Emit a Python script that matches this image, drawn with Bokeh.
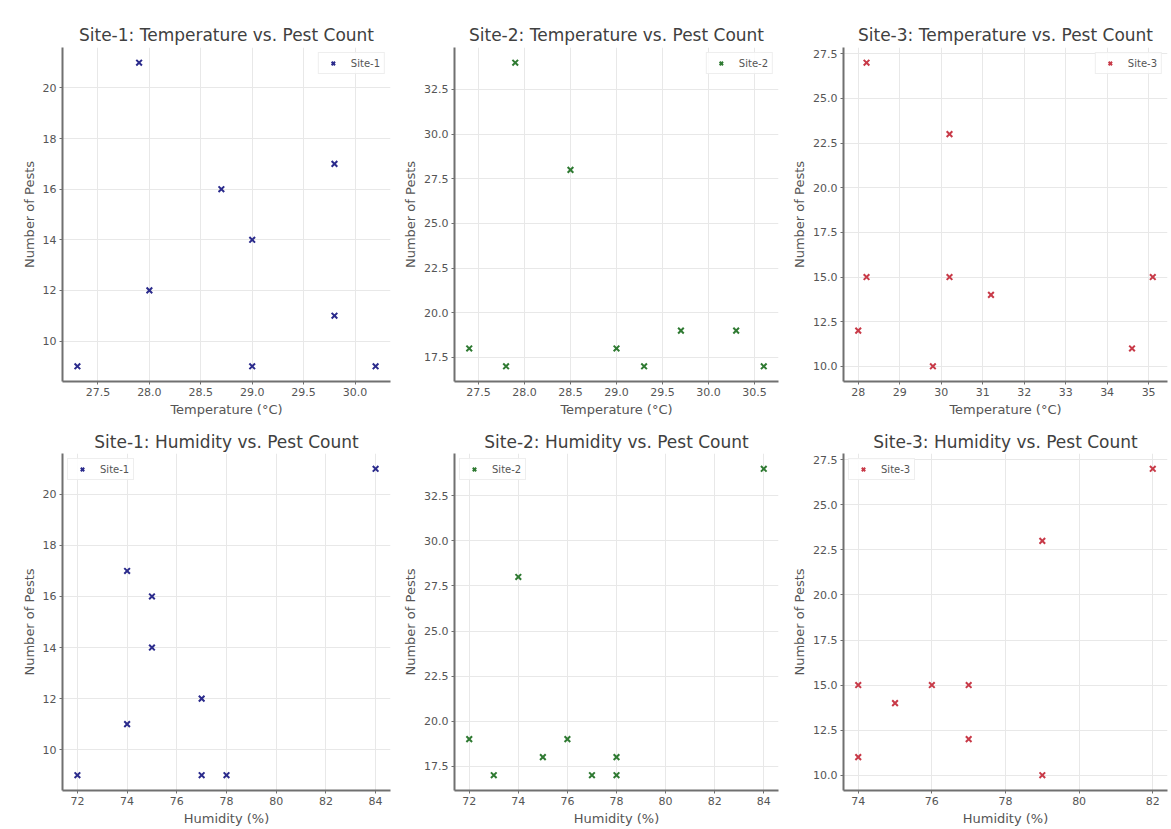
from bokeh.plotting import figure
from bokeh.layouts import column, row
from bokeh.models import Range1d, FixedTicker, NumeralTickFormatter
from bokeh.embed import file_html
from bokeh.resources import INLINE

# ---- data ----
site1_temp = [27.3, 27.9, 28.0, 28.7, 29.0, 29.0, 29.8, 29.8, 30.2]
site1_hum = [72, 84, 77, 75, 75, 78, 74, 74, 77]
site1_pests = [9, 21, 12, 16, 14, 9, 17, 11, 9]

site2_temp = [27.4, 27.8, 27.9, 28.5, 29.0, 29.3, 29.7, 30.3, 30.6]
site2_hum = [75, 73, 84, 74, 78, 77, 72, 76, 78]
site2_pests = [18, 17, 34, 28, 18, 17, 19, 19, 17]

site3_temp = [28.0, 28.2, 28.2, 29.8, 30.2, 30.2, 31.2, 34.6, 35.1]
site3_hum = [77, 82, 74, 79, 79, 76, 75, 74, 77]
site3_pests = [12, 27, 15, 10, 23, 15, 14, 11, 15]

site_names = ["Site-1", "Site-2", "Site-3"]
site_colors = ["#2b2b8c", "#2f7a32", "#c83a48"]

temp_ticks = [
    [27.5, 28.0, 28.5, 29.0, 29.5, 30.0],
    [27.5, 28.0, 28.5, 29.0, 29.5, 30.0, 30.5],
    [28, 29, 30, 31, 32, 33, 34, 35],
]
hum_ticks = [
    [72, 74, 76, 78, 80, 82, 84],
    [72, 74, 76, 78, 80, 82, 84],
    [74, 76, 78, 80, 82],
]
pest_ticks = [
    [10, 12, 14, 16, 18, 20],
    [17.5, 20.0, 22.5, 25.0, 27.5, 30.0, 32.5],
    [10.0, 12.5, 15.0, 17.5, 20.0, 22.5, 25.0, 27.5],
]
temp_fmt = ["0.0", "0.0", "0"]
hum_fmt = ["0", "0", "0"]
pest_fmt = ["0", "0.0", "0.0"]

FONT = "DejaVu Sans"


def pad_range(vals):
    lo, hi = min(vals), max(vals)
    m = (hi - lo) * 0.05
    return Range1d(lo - m, hi + m)


def make_fig(x, y, title, xlabel, color, name, xt, yt, xf, yf, legend_loc,
             width, height, bl, br, bt, bb, tstand):
    p = figure(width=width, height=height, output_backend="svg",
               toolbar_location=None, title=title,
               x_range=pad_range(x), y_range=pad_range(y),
               min_border_left=bl, min_border_right=br,
               min_border_top=bt, min_border_bottom=bb)
    p.outline_line_color = None
    p.background_fill_color = "white"
    p.border_fill_color = "white"
    p.title.text_font = FONT
    p.title.text_font_size = "17px"
    p.title.text_font_style = "normal"
    p.title.text_color = "#404040"
    p.title.align = "center"
    p.title.standoff = tstand

    p.scatter(x, y, marker="x", size=8, line_width=2, line_color=color,
              legend_label=name)

    p.xaxis.ticker = FixedTicker(ticks=xt)
    p.yaxis.ticker = FixedTicker(ticks=yt)
    p.xaxis.formatter = NumeralTickFormatter(format=xf)
    p.yaxis.formatter = NumeralTickFormatter(format=yf)
    p.xaxis.axis_label = xlabel
    p.yaxis.axis_label = "Number of Pests"
    for ax in (p.xaxis[0], p.yaxis[0]):
        ax.axis_label_text_font = FONT
        ax.axis_label_text_font_size = "13px"
        ax.axis_label_text_font_style = "normal"
        ax.axis_label_text_color = "#555555"
        ax.axis_label_standoff = 3
        ax.major_label_text_font = FONT
        ax.major_label_text_font_size = "11px"
        ax.major_label_text_color = "#555555"
        ax.major_label_standoff = 3
        ax.axis_line_color = "#707070"
        ax.axis_line_width = 2
        ax.major_tick_line_color = "#707070"
        ax.major_tick_out = 3
        ax.major_tick_in = 0
        ax.minor_tick_line_color = None
    p.grid.grid_line_color = "#e8e8e8"
    p.grid.grid_line_width = 1

    p.legend.location = legend_loc
    p.legend.label_text_font = FONT
    p.legend.label_text_font_size = "10px"
    p.legend.label_text_color = "#555555"
    p.legend.border_line_color = "#dddddd"
    p.legend.border_line_width = 1
    p.legend.background_fill_alpha = 0.85
    p.legend.padding = 4
    p.legend.spacing = 0
    p.legend.margin = 5
    p.legend.glyph_width = 20
    p.legend.glyph_height = 12
    p.legend.label_height = 12
    p.legend.label_standoff = 8
    return p


temps = [site1_temp, site2_temp, site3_temp]
hums = [site1_hum, site2_hum, site3_hum]
pests = [site1_pests, site2_pests, site3_pests]

# widths / borders per column
col_w = [400, 388, 381]
col_bl = [62, 52, 55]
col_br = [10, 10, 2]

top = []
bottom = []
for i in range(3):
    top.append(make_fig(temps[i], pests[i],
                        f"{site_names[i]}: Temperature vs. Pest Count",
                        "Temperature (°C)", site_colors[i], site_names[i],
                        temp_ticks[i], pest_ticks[i], temp_fmt[i], pest_fmt[i],
                        "top_right", col_w[i], 419, col_bl[i], col_br[i], 47, 34, 6))
    bottom.append(make_fig(hums[i], pests[i],
                           f"{site_names[i]}: Humidity vs. Pest Count",
                           "Humidity (%)", site_colors[i], site_names[i],
                           hum_ticks[i], pest_ticks[i], hum_fmt[i], pest_fmt[i],
                           "top_left", col_w[i], 409, col_bl[i], col_br[i], 34, 37, 3))

layout = column(row(*top, spacing=0), row(*bottom, spacing=0), spacing=0)

open("out.html", "w").write(file_html(layout, INLINE))
